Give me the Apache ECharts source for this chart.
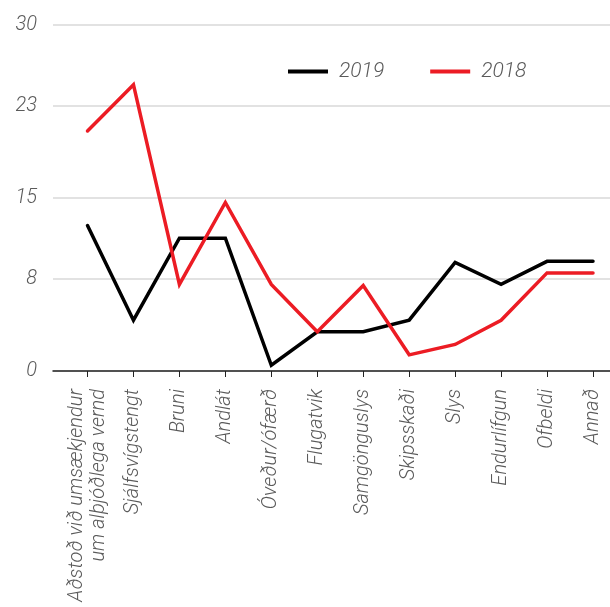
<!DOCTYPE html>
<html>
<head>
<meta charset="utf-8">
<script src="https://cdn.jsdelivr.net/npm/echarts@6/dist/echarts.min.js"></script>
<style>
html,body{margin:0;padding:0;background:#fff;}
#chart{width:610px;height:607px;}
</style>
</head>
<body>
<div id="chart"></div>
<script>
const categories = [
  "Aðstoð við umsækjendur\num alþjóðlega vernd",
  "Sjálfsvígstengt",
  "Bruni",
  "Andlát",
  "Óveður/ófærð",
  "Flugatvik",
  "Samgönguslys",
  "Skipsskaði",
  "Slys",
  "Endurlífgun",
  "Ofbeldi",
  "Annað"
];
const values2019 = [12.6, 4.4, 11.5, 11.5, 0.5, 3.4, 3.4, 4.4, 9.4, 7.5, 9.5, 9.5];
const values2018 = [20.8, 24.8, 7.5, 14.6, 7.5, 3.4, 7.4, 1.4, 2.3, 4.4, 8.5, 8.5];
const yTicks = [0, 8, 15, 23, 30];
const seriesNames = ["2019", "2018"];

const FONT = "Roboto";
const TXT = '#5a5a5a';
const chart = echarts.init(document.getElementById('chart'), null, {renderer: 'canvas'});
const gridTop = 24.7, gridBottom = 607 - 371;
chart.setOption({
  animation: false,
  backgroundColor: '#fff',
  legend: {
    data: seriesNames.map(n => ({name: n, icon: 'rect'})),
    left: 283,
    top: 56,
    itemWidth: 40,
    itemHeight: 4,
    itemGap: 46,
    textStyle: {fontFamily: FONT, fontStyle: 'italic', fontWeight: 300, fontSize: 21, color: TXT, padding: [0,0,0,6]}
  },
  grid: [
    {left: 53, right: 0, top: gridTop, bottom: gridBottom, containLabel: false},
    {left: 87.5, right: 17, top: gridTop, bottom: gridBottom, containLabel: false}
  ],
  xAxis: [
    {
      gridIndex: 0, type: 'value', min: 0, max: 1,
      axisLine: {show: true, onZero: false, lineStyle: {color: '#222', width: 1.5}},
      axisTick: {show: false}, axisLabel: {show: false}, splitLine: {show: false}
    },
    {
      gridIndex: 1, type: 'category', data: categories, boundaryGap: false,
      axisLine: {show: false},
      axisTick: {show: true, length: 6, lineStyle: {color: '#222', width: 1}},
      axisLabel: {
        rotate: 90, margin: 18, interval: 0,
        fontFamily: FONT, fontStyle: 'italic', fontWeight: 300, fontSize: 20,
        color: TXT, lineHeight: 22
      },
      splitLine: {show: false}
    }
  ],
  yAxis: [
    {
      gridIndex: 0, type: 'value', min: 0, max: 30,
      axisLine: {show: false},
      axisTick: {show: false, customValues: yTicks},
      axisLabel: {
        customValues: yTicks, margin: 16,
        fontFamily: FONT, fontStyle: 'italic', fontWeight: 300, fontSize: 20, color: TXT
      },
      splitLine: {show: true, lineStyle: {color: '#d9d9d9', width: 1.5}}
    },
    {
      gridIndex: 1, type: 'value', min: 0, max: 30, show: false,
      splitLine: {show: false}
    }
  ],
  series: [
    {
      name: seriesNames[0], type: 'line', xAxisIndex: 1, yAxisIndex: 1,
      data: values2019, symbol: 'none', color: '#000',
      lineStyle: {color: '#000', width: 3.5, cap: 'round', join: 'miter'}
    },
    {
      name: seriesNames[1], type: 'line', xAxisIndex: 1, yAxisIndex: 1,
      data: values2018, symbol: 'none', color: '#ec1c24',
      lineStyle: {color: '#ec1c24', width: 3.5, cap: 'round', join: 'miter'}
    }
  ]
});
</script>
</body>
</html>
